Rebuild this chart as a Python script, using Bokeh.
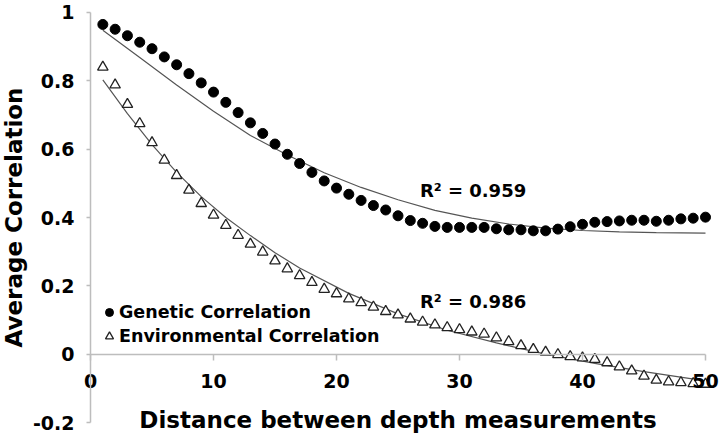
from bokeh.plotting import figure
from bokeh.models import FixedTicker, Legend, LegendItem, Label
from bokeh.embed import file_html
from bokeh.resources import INLINE

# scatter data
distance = list(range(1, 51))
genetic = [0.965, 0.951, 0.932, 0.913, 0.894, 0.870, 0.847, 0.821, 0.794, 0.767,
           0.737, 0.707, 0.677, 0.646, 0.615, 0.585, 0.558, 0.532, 0.507, 0.486,
           0.468, 0.450, 0.435, 0.422, 0.405, 0.391, 0.383, 0.374, 0.371, 0.371,
           0.371, 0.371, 0.367, 0.364, 0.364, 0.361, 0.361, 0.366, 0.373, 0.380,
           0.386, 0.388, 0.390, 0.392, 0.392, 0.389, 0.392, 0.396, 0.398, 0.401]
environmental = [0.840, 0.788, 0.731, 0.675, 0.619, 0.568, 0.523, 0.480, 0.441, 0.407,
                 0.377, 0.348, 0.322, 0.299, 0.273, 0.250, 0.230, 0.210, 0.190, 0.177,
                 0.162, 0.151, 0.138, 0.125, 0.115, 0.103, 0.094, 0.086, 0.078, 0.072,
                 0.065, 0.059, 0.048, 0.037, 0.025, 0.014, 0.006, -0.001, -0.007, -0.011,
                 -0.015, -0.025, -0.037, -0.049, -0.064, -0.076, -0.081, -0.083, -0.086, -0.088]

# trend lines
gen_trend_x = [1, 4, 7, 10, 13, 16, 19, 22, 25, 28, 31, 34, 37, 40, 43, 46, 50]
gen_trend_y = [0.948, 0.868, 0.788, 0.711, 0.640, 0.583, 0.531, 0.488, 0.452, 0.421,
               0.398, 0.381, 0.369, 0.362, 0.358, 0.356, 0.354]
env_trend_x = [1, 3, 5, 7, 9, 11, 13, 15, 17, 21, 25, 29, 33, 37, 41, 45, 50]
env_trend_y = [0.803, 0.704, 0.613, 0.532, 0.461, 0.400, 0.347, 0.297, 0.252, 0.178,
               0.118, 0.070, 0.033, 0.000, -0.027, -0.051, -0.078]

x_ticks = [0, 10, 20, 30, 40, 50]
x_tick_labels = ["0", "10", "20", "30", "40", "50"]
y_ticks = [-0.2, 0, 0.2, 0.4, 0.6, 0.8, 1.0]
y_tick_labels = ["-0.2", "0", "0.2", "0.4", "0.6", "0.8", "1"]
r2_labels = ["R\u00b2 = 0.959", "R\u00b2 = 0.986"]
r2_x = [31.1, 31.1]
r2_y = [0.478, 0.154]
legend_labels = ["Genetic Correlation", "Environmental Correlation"]

FONT = "DejaVu Sans"

p = figure(width=720, height=438, output_backend="svg", toolbar_location=None,
           x_range=(-7.32, 51.22), y_range=(-0.2468, 1.0351),
           min_border=0, min_border_top=0, min_border_bottom=0,
           min_border_left=0, min_border_right=0)
p.grid.visible = False
p.outline_line_color = None
p.background_fill_color = "white"
p.border_fill_color = "white"

trend_color = "#555555"
p.line(gen_trend_x, gen_trend_y, line_color=trend_color, line_width=1.2)
p.line(env_trend_x, env_trend_y, line_color=trend_color, line_width=1.2)

r_gen = p.scatter(distance, genetic, marker="circle", size=10, fill_color="black",
                  line_color="black")
r_env = p.scatter(distance, environmental, marker="triangle", size=10.5,
                  fill_color="white", line_color="#222222", line_width=1.3)

# axes: both drawn crossing at zero
axis_color = "#bdbdbd"
xa = p.xaxis[0]
xa.fixed_location = 0
xa.bounds = (x_ticks[0], x_ticks[-1])
xa.ticker = FixedTicker(ticks=x_ticks)
xa.major_label_overrides = {t: l for t, l in zip(x_ticks, x_tick_labels)}
xa.axis_label = "Distance between depth measurements"
ya = p.yaxis[0]
ya.fixed_location = 0
ya.bounds = (y_ticks[0], y_ticks[-1])
ya.ticker = FixedTicker(ticks=y_ticks)
ya.major_label_overrides = {t: l for t, l in zip(y_ticks, y_tick_labels)}
ya.axis_label = "Average Correlation"
for ax in (xa, ya):
    ax.axis_line_color = axis_color
    ax.axis_line_width = 1.5
    ax.major_tick_line_color = axis_color
    ax.major_tick_line_width = 1.5
    ax.major_tick_in = 0
    ax.minor_tick_line_color = None
    ax.major_label_text_font = FONT
    ax.major_label_text_font_style = "bold"
    ax.major_label_text_font_size = "19px"
    ax.major_label_text_color = "black"
    ax.axis_label_text_font = FONT
    ax.axis_label_text_font_style = "bold"
    ax.axis_label_text_font_size = "23px"
    ax.axis_label_text_color = "black"
xa.major_tick_out = 6
xa.major_label_standoff = 14
xa.axis_label_standoff = 15
ya.major_tick_out = 4
ya.major_label_standoff = 12
ya.axis_label_standoff = 3

# R^2 annotations
for txt, xv, yv in zip(r2_labels, r2_x, r2_y):
    p.add_layout(Label(x=xv, y=yv, text=txt, text_align="center", text_baseline="middle",
                       text_font=FONT, text_font_style="bold", text_font_size="18px",
                       text_color="black"))

legend = Legend(items=[LegendItem(label=legend_labels[0], renderers=[r_gen]),
                       LegendItem(label=legend_labels[1], renderers=[r_env])],
                location=(99, 90), orientation="vertical",
                label_text_font=FONT, label_text_font_style="bold",
                label_text_font_size="17.5px", label_text_color="black",
                glyph_width=20, glyph_height=24, label_height=24, label_standoff=0,
                spacing=0, padding=0, margin=0, border_line_color=None,
                background_fill_alpha=0)
p.add_layout(legend)

open("out.html", "w").write(file_html(p, INLINE))
